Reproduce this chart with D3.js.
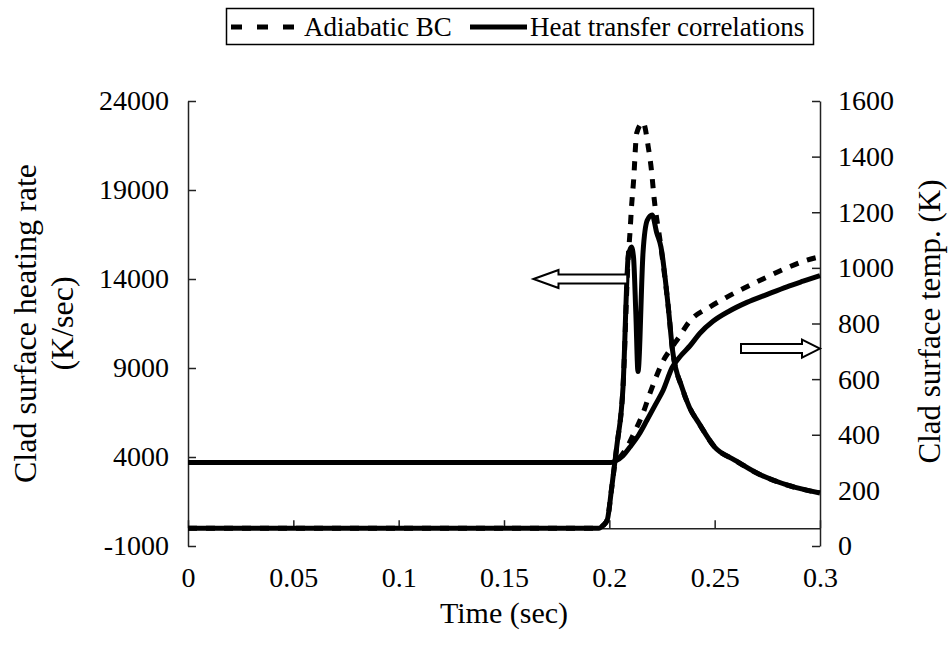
<!DOCTYPE html>
<html>
<head>
<meta charset="utf-8">
<script src="https://cdn.jsdelivr.net/npm/d3@7"></script>
<style>
  html, body { margin: 0; padding: 0; background: #fff; }
  svg { display: block; }
  text { font-family: "Liberation Serif", "Times New Roman", serif; fill: #000; }
</style>
</head>
<body>
<svg id="chart" width="949" height="645"></svg>
<script>
// ---- Data ----
const xTicks = [0, 0.05, 0.1, 0.15, 0.2, 0.25, 0.3];
const xTickLabels = ["0", "0.05", "0.1", "0.15", "0.2", "0.25", "0.3"];
const leftTicks = [-1000, 4000, 9000, 14000, 19000, 24000];
const leftTickLabels = ["-1000", "4000", "9000", "14000", "19000", "24000"];
const rightTicks = [0, 200, 400, 600, 800, 1000, 1200, 1400, 1600];
const rightTickLabels = ["0", "200", "400", "600", "800", "1000", "1200", "1400", "1600"];

const seriesNames = ["Adiabatic BC", "Heat transfer correlations"];

// Clad surface heating rate (K/sec), heat transfer correlations (solid)
const timeRateHT = [0, 0.195, 0.197, 0.199, 0.201, 0.2035, 0.2065, 0.209, 0.2105, 0.2115, 0.2126, 0.2136, 0.2160, 0.2180, 0.2203, 0.2225, 0.2245, 0.228, 0.230, 0.2345, 0.238, 0.2425, 0.250, 0.2595, 0.270, 0.285, 0.300];
const rateHT     = [0, 0, 150, 460, 2150, 4560, 7930, 15300, 15800, 15200, 12000, 8800, 15500, 17300, 17600, 16600, 15800, 12400, 10000, 7900, 6800, 5900, 4560, 3830, 3100, 2400, 1980];

// Clad surface heating rate (K/sec), adiabatic BC (dashed)
const timeRateAd = [0, 0.195, 0.197, 0.199, 0.201, 0.2035, 0.2065, 0.209, 0.2098, 0.2105, 0.2115, 0.2130, 0.2160, 0.2185, 0.2200, 0.2212, 0.2245, 0.228, 0.230, 0.2345, 0.238, 0.2425, 0.250, 0.2595, 0.270, 0.285, 0.300];
const rateAd     = [0, 0, 150, 460, 2150, 4560, 7930, 15300, 16600, 18000, 19500, 22200, 22800, 21400, 20100, 18600, 15800, 12400, 10000, 7900, 6800, 5900, 4560, 3830, 3100, 2400, 1980];

// Clad surface temperature (K), heat transfer correlations (solid)
const timeTempHT = [0, 0.200, 0.2027, 0.2065, 0.2098, 0.2140, 0.2179, 0.2220, 0.2256, 0.2297, 0.2340, 0.2383, 0.2430, 0.2492, 0.2570, 0.2653, 0.2750, 0.2843, 0.2920, 0.300];
const tempHT     = [300, 300, 305, 325, 356, 400, 453, 510, 561, 640, 685, 720, 765, 808, 845, 876, 905, 932, 952, 972];

// Clad surface temperature (K), adiabatic BC (dashed)
const timeTempAd = [0, 0.200, 0.204, 0.208, 0.212, 0.216, 0.2193, 0.2226, 0.2255, 0.2288, 0.2330, 0.2378, 0.2478, 0.2558, 0.2653, 0.2748, 0.2843, 0.2938, 0.300];
const tempAd     = [300, 300, 312, 350, 410, 478, 550, 615, 665, 705, 750, 805, 860, 895, 932, 967, 1000, 1028, 1040];

// Annotation arrows: [time start, time end, value, axis, direction]
const arrowTimes0 = [0.164, 0.2625];
const arrowTimes1 = [0.2085, 0.300];
const arrowValues = [14000, 710];
const arrowAxes = ["left", "right"];
const arrowDirs = ["left", "right"];

// ---- Layout ----
const svg = d3.select("#chart");
const margin = { left: 188, right: 129, top: 101, bottom: 99 };
const W = 949, H = 645;

const x = d3.scaleLinear().domain([0, 0.3]).range([margin.left, W - margin.right]);
const yL = d3.scaleLinear().domain([-1000, 24000]).range([H - margin.bottom, margin.top]);
const yR = d3.scaleLinear().domain([0, 1600]).range([H - margin.bottom, margin.top]);

const tickFont = 28;
const axisColor = "#222";
const serif = '"Liberation Serif", "Times New Roman", serif';

// Left axis
const gL = svg.append("g").attr("transform", `translate(${x(0)},0)`)
  .call(d3.axisLeft(yL).tickValues(leftTicks).tickFormat((d, i) => leftTickLabels[i])
        .tickSizeInner(-8).tickSizeOuter(0).tickPadding(19));
// Right axis
const gR = svg.append("g").attr("transform", `translate(${x(0.3)},0)`)
  .call(d3.axisRight(yR).tickValues(rightTicks).tickFormat((d, i) => rightTickLabels[i])
        .tickSizeInner(-8).tickSizeOuter(0).tickPadding(18));
// Bottom axis (crosses at heating rate 0, labels placed low)
const gB = svg.append("g").attr("transform", `translate(0,${yL(0)})`)
  .call(d3.axisBottom(x).tickValues(xTicks).tickFormat((d, i) => xTickLabels[i])
        .tickSizeInner(-8).tickSizeOuter(0).tickPadding(39));

[gL, gR, gB].forEach(g => {
  g.attr("font-family", serif).attr("font-size", tickFont);
  g.selectAll(".domain").attr("stroke", axisColor).attr("stroke-width", 1.5);
  g.selectAll(".tick line").attr("stroke", axisColor).attr("stroke-width", 1.5);
  g.selectAll("text").style("font-family", serif)
    .style("font-size", tickFont + "px").attr("fill", "#000");
});

// Axis titles
const midY = (yL.range()[0] + yL.range()[1]) / 2;
svg.append("text")
  .attr("transform", `translate(36,${midY}) rotate(-90)`)
  .attr("text-anchor", "middle").style("font-size", "32px")
  .text("Clad surface heating rate");
svg.append("text")
  .attr("transform", `translate(73,${midY}) rotate(-90)`)
  .attr("text-anchor", "middle").style("font-size", "32px")
  .text("(K/sec)");
svg.append("text")
  .attr("transform", `translate(940,${midY - 2}) rotate(-90)`)
  .attr("text-anchor", "middle").style("font-size", "31px")
  .text("Clad surface temp. (K)");
svg.append("text")
  .attr("x", (x.range()[0] + x.range()[1]) / 2).attr("y", 623)
  .attr("text-anchor", "middle").style("font-size", "30px")
  .text("Time (sec)");

// ---- Lines ----
const lineW = 5;
const dash = "9,9";
function drawLine(ts, vs, yScale, dashed) {
  const pts = ts.map((t, i) => [t, vs[i]]);
  const gen = d3.line().x(d => x(d[0])).y(d => yScale(d[1])).curve(d3.curveMonotoneX);
  svg.append("path").datum(pts)
    .attr("d", gen).attr("fill", "none").attr("stroke", "#000")
    .attr("stroke-width", lineW)
    .attr("stroke-linejoin", "round")
    .attr("stroke-dasharray", dashed ? dash : null);
}
drawLine(timeTempHT, tempHT, yR, false);
drawLine(timeRateHT, rateHT, yL, false);
drawLine(timeTempAd, tempAd, yR, true);
drawLine(timeRateAd, rateAd, yL, true);

// ---- Arrows ----
function arrowPath(x0, x1, yc, dir, headLen, headHalf, shaftHalf) {
  if (dir === "left") {
    return `M${x0},${yc} L${x0 + headLen},${yc - headHalf} L${x0 + headLen},${yc - shaftHalf} L${x1},${yc - shaftHalf} L${x1},${yc + shaftHalf} L${x0 + headLen},${yc + shaftHalf} L${x0 + headLen},${yc + headHalf} Z`;
  } else {
    return `M${x1},${yc} L${x1 - headLen},${yc - headHalf} L${x1 - headLen},${yc - shaftHalf} L${x0},${yc - shaftHalf} L${x0},${yc + shaftHalf} L${x1 - headLen},${yc + shaftHalf} L${x1 - headLen},${yc + headHalf} Z`;
  }
}
arrowValues.forEach((v, i) => {
  const ys = arrowAxes[i] === "left" ? yL : yR;
  const hl = arrowDirs[i] === "left" ? 25 : 18;
  svg.append("path")
    .attr("d", arrowPath(x(arrowTimes0[i]), x(arrowTimes1[i]), ys(v), arrowDirs[i], hl, 9, 4.5))
    .attr("fill", "#fff").attr("stroke", "#000").attr("stroke-width", 2);
});

// ---- Legend ----
const lg = svg.append("g");
lg.append("rect").attr("x", 226.5).attr("y", 8.5).attr("width", 587).attr("height", 36)
  .attr("fill", "#fff").attr("stroke", "#000").attr("stroke-width", 1.5);
lg.append("line").attr("x1", 231).attr("x2", 294).attr("y1", 27).attr("y2", 27)
  .attr("stroke", "#000").attr("stroke-width", lineW).attr("stroke-dasharray", "11,15");
lg.append("text").attr("x", 304).attr("y", 36).style("font-size", "27px").text(seriesNames[0]);
lg.append("line").attr("x1", 470).attr("x2", 527).attr("y1", 27).attr("y2", 27)
  .attr("stroke", "#000").attr("stroke-width", lineW);
lg.append("text").attr("x", 530).attr("y", 36).style("font-size", "27px").text(seriesNames[1]);
</script>
</body>
</html>
